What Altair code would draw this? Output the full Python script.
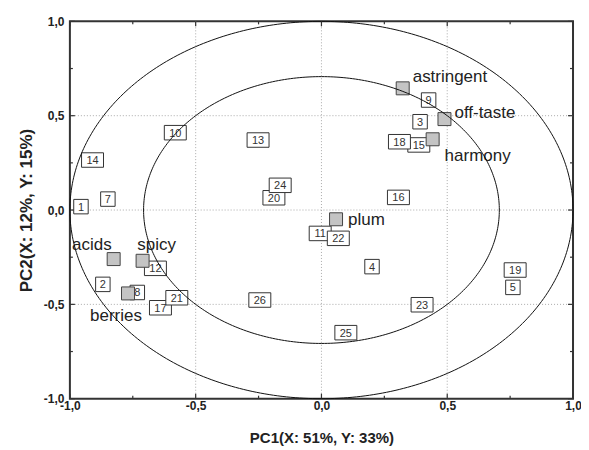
import altair as alt
import pandas as pd
import numpy as np

# Observations (numbered boxes)
obs_labels = [str(i) for i in range(1, 27)]
obs_pc1 = [-0.956, -0.869, 0.392, 0.201, 0.761, None, -0.849, -0.732, 0.426, -0.581,
           -0.005, -0.660, -0.252, -0.910, 0.387, 0.306, -0.640, 0.310, 0.770, -0.189,
           -0.575, 0.067, 0.400, -0.164, 0.097, -0.245]
obs_pc2 = [0.018, -0.394, 0.468, -0.300, -0.410, None, 0.058, -0.437, 0.583, 0.410,
           -0.124, -0.309, 0.371, 0.265, 0.345, 0.067, -0.518, 0.362, -0.318, 0.065,
           -0.465, -0.150, -0.502, 0.131, -0.650, -0.477]

# Variables (grey squares)
var_names = ["astringent", "off-taste", "harmony", "plum", "acids", "spicy", "berries"]
var_pc1 = [0.323, 0.489, 0.442, 0.058, -0.826, -0.711, -0.769]
var_pc2 = [0.645, 0.482, 0.375, -0.049, -0.260, -0.269, -0.442]

# Axis ticks
tick_values = [-1.0, -0.75, -0.5, -0.25, 0.0, 0.25, 0.5, 0.75, 1.0]
major_values = [-1.0, -0.5, 0.0, 0.5, 1.0]
grid_values = [-0.5, 0.0, 0.5]

# correlation circles radii (100% and 50% explained variance)
radii = [1.0, 0.7071]

W, H = 504, 378

obs = pd.DataFrame({"label": obs_labels, "pc1": obs_pc1, "pc2": obs_pc2}).dropna()
vars_df = pd.DataFrame({"name": var_names, "pc1": var_pc1, "pc2": var_pc2})

xs = alt.Scale(domain=[-1, 1], nice=False, zero=False)
ys = alt.Scale(domain=[-1, 1], nice=False, zero=False)

label_expr = "replace(replace(format(datum.value, '.1f'), '.', ','), '\u2212', '-')"

X_AX = alt.Axis(values=major_values, labelExpr=label_expr, grid=False, ticks=False,
                domain=False, title="PC1(X: 51%, Y: 33%)", labelFont="Liberation Sans",
                labelFontWeight="bold", labelFontSize=12, labelColor="#222",
                labelPadding=2, titleFont="Liberation Sans", titleFontSize=15,
                titleFontWeight="bold", titleColor="#222", titlePadding=19,
                labelFlush=False)
Y_AX = alt.Axis(values=major_values, labelExpr=label_expr, grid=False, ticks=False,
                domain=False, title="PC2(X: 12%, Y: 15%)", labelFont="Liberation Sans",
                labelFontWeight="bold", labelFontSize=12, labelColor="#222",
                labelPadding=6, titleFont="Liberation Sans", titleFontSize=17,
                titleFontWeight="bold", titleColor="#222", titlePadding=8,
                labelFlush=False)


def XE(field):
    return alt.X(field, scale=xs, axis=X_AX)


def YE(field):
    return alt.Y(field, scale=ys, axis=Y_AX)


X = XE("pc1:Q")
Y = YE("pc2:Q")

# grid
grid_df = pd.DataFrame({"v": grid_values})
gx = alt.Chart(grid_df).mark_rule(color="#aaa", strokeDash=[1, 2], strokeWidth=1).encode(
    x=XE("v:Q"))
gy = alt.Chart(grid_df).mark_rule(color="#aaa", strokeDash=[1, 2], strokeWidth=1).encode(
    y=YE("v:Q"))

# ticks
tick_df = pd.DataFrame({"v": tick_values})
tick_df["major"] = tick_df["v"].isin(major_values)
tick_layers = []
for is_major, ln in [(True, 5), (False, 3)]:
    base = alt.Chart(tick_df).transform_filter(
        "datum.major" if is_major else "!datum.major").mark_rule(color="#333", strokeWidth=1.2)
    tick_layers += [
        base.encode(x=XE("v:Q"), y=alt.value(H), y2=alt.value(H - ln)),
        base.encode(x=XE("v:Q"), y=alt.value(0), y2=alt.value(ln)),
        base.encode(y=YE("v:Q"), x=alt.value(0), x2=alt.value(ln)),
        base.encode(y=YE("v:Q"), x=alt.value(W), x2=alt.value(W - ln)),
    ]

# boxes for observations
obs["two"] = obs["label"].str.len() > 1
box2 = alt.Chart(obs).transform_filter("datum.two").mark_point(
    shape="M-1,-0.66L1,-0.66L1,0.66L-1,0.66Z", size=484, filled=True, fill="white",
    stroke="#333", strokeWidth=1, opacity=1).encode(x=X, y=Y)
box1 = alt.Chart(obs).transform_filter("!datum.two").mark_point(
    shape="square", size=210, filled=True, fill="white",
    stroke="#333", strokeWidth=1, opacity=1).encode(x=X, y=Y)
box_text = alt.Chart(obs).mark_text(font="Liberation Sans", fontSize=11, color="#333",
                                    dy=1).encode(x=X, y=Y, text="label:N")

# variables
var_sq = alt.Chart(vars_df).mark_point(shape="square", size=169, filled=True, fill="#c4c4c4",
                                       stroke="#444", strokeWidth=1, opacity=1).encode(x=X, y=Y)

label_style = {
    "astringent": ("left", 10, -11),
    "off-taste": ("left", 10, -6),
    "harmony": ("left", 12, 17),
    "plum": ("left", 12, 1),
    "acids": ("right", -2, -14),
    "spicy": ("center", 14, -16),
    "berries": ("center", -12, 23),
}
var_text = []
for name, (al, dx, dy) in label_style.items():
    var_text.append(
        alt.Chart(vars_df).transform_filter(alt.datum.name == name).mark_text(
            font="Liberation Sans", fontSize=17, color="#222", align=al, baseline="middle",
            dx=dx, dy=dy).encode(x=X, y=Y, text="name:N"))

# circles
t = np.linspace(0, 2 * np.pi, 361)
circ_rows = []
for k, r in enumerate(radii):
    for i, tt in enumerate(t):
        circ_rows.append({"c": k, "i": i, "pc1": r * np.cos(tt), "pc2": r * np.sin(tt)})
circ_df = pd.DataFrame(circ_rows)
circles = alt.Chart(circ_df).mark_line(color="#111", strokeWidth=1, clip=False).encode(
    x=X, y=Y, detail="c:N", order="i:Q")

chart = alt.layer(
    gx, gy, *tick_layers, box1, box2, box_text, var_sq, *var_text, circles
).properties(
    width=W, height=H,
    autosize=alt.AutoSizeParams(type="none"),
    padding={"left": 62, "top": 13, "right": 8, "bottom": 47},
    background="white",
).configure_view(stroke="#333", strokeWidth=2)

chart.save("out.html", embed_options={"renderer": "svg", "actions": False})
